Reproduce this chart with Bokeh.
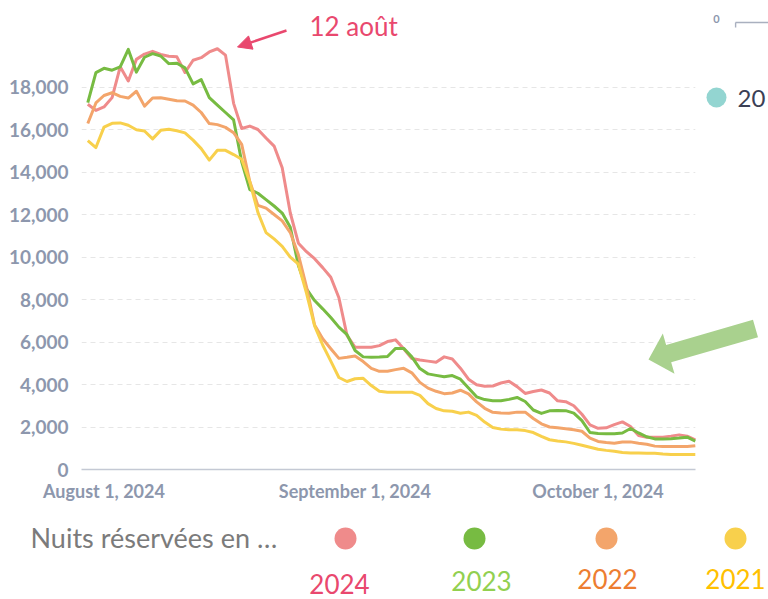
import math
from datetime import timedelta
import pandas as pd
from bokeh.plotting import figure
from bokeh.layouts import column
from bokeh.models import (Range1d, FixedTicker, NumeralTickFormatter, CustomJSTickFormatter, Label,
                          Arrow, NormalHead, BoxAnnotation, PolyAnnotation)
from bokeh.embed import file_html
from bokeh.resources import INLINE

# ---------------- data ----------------
dates = pd.date_range("2024-07-30", periods=76, freq="D")

nights_2024 = [17190, 16900, 17060, 17500, 18950, 18280, 19300, 19550, 19680, 19530,
               19450, 19420, 18680, 19260, 19380, 19650, 19800, 19500, 17230, 16050,
               16160, 16000, 15600, 15220, 14200, 12070, 10650, 10250, 9920, 9500,
               9050, 8080, 6310, 5750, 5750, 5750, 5830, 6020, 6100, 5680,
               5220, 5150, 5100, 5050, 5300, 5200, 4770, 4250, 3990, 3920,
               3930, 4070, 4150, 3900, 3580, 3670, 3740, 3600, 3230, 3190,
               3000, 2600, 2100, 1940, 1960, 2110, 2240, 2020, 1600, 1520,
               1520, 1520, 1570, 1630, 1570, 1400]
nights_2023 = [17260, 18680, 18880, 18790, 18950, 19770, 18700, 19400, 19570, 19460,
               19100, 19120, 18900, 18150, 18350, 17500, 17150, 16800, 16450, 14480,
               13170, 13000, 12700, 12400, 12070, 11400, 9600, 8500, 7950, 7560,
               7150, 6700, 6350, 5600, 5300, 5280, 5290, 5320, 5700, 5700,
               5300, 4750, 4500, 4430, 4360, 4420, 4250, 3830, 3420, 3290,
               3240, 3240, 3300, 3390, 3200, 2800, 2640, 2760, 2780, 2770,
               2650, 2300, 1740, 1690, 1680, 1680, 1720, 1930, 1720, 1540,
               1440, 1440, 1450, 1480, 1520, 1340]
nights_2022 = [16280, 17250, 17600, 17730, 17560, 17480, 17800, 17100, 17480, 17490,
               17420, 17350, 17340, 17150, 16800, 16280, 16230, 16100, 15850, 15300,
               13550, 12430, 12300, 12000, 11700, 11150, 10100, 8600, 6800, 6150,
               5680, 5230, 5280, 5340, 5080, 4760, 4620, 4620, 4700, 4760,
               4550, 4100, 3830, 3680, 3570, 3600, 3730, 3560, 3180, 2880,
               2690, 2660, 2650, 2700, 2700, 2400, 2150, 2000, 1960, 1920,
               1870, 1800, 1480, 1320, 1270, 1240, 1290, 1300, 1240, 1190,
               1100, 1080, 1080, 1080, 1080, 1120]
nights_2021 = [15480, 15150, 16110, 16290, 16310, 16200, 15990, 15930, 15560, 15960,
               16010, 15940, 15840, 15500, 15100, 14560, 15020, 15020, 14820, 14600,
               13530, 12100, 11150, 10850, 10500, 9990, 9660, 8300, 6760, 5860,
               5100, 4330, 4140, 4270, 4290, 3950, 3680, 3640, 3640, 3640,
               3640, 3490, 3100, 2870, 2760, 2740, 2650, 2700, 2550, 2230,
               1980, 1900, 1870, 1870, 1830, 1740, 1560, 1400, 1340, 1300,
               1230, 1140, 1050, 950, 900, 860, 800, 780, 775, 770,
               765, 730, 710, 705, 705, 705]

series_years = ["2024", "2023", "2022", "2021"]
series_values = [nights_2024, nights_2023, nights_2022, nights_2021]
line_colors = ["#ef8b8b", "#77bb42", "#f3a56b", "#f8d04c"]
year_label_colors = ["#e9486e", "#92d050", "#ed7d31", "#ffc000"]

y_ticks = [0, 2000, 4000, 6000, 8000, 10000, 12000, 14000, 16000, 18000]
x_tick_dates = ["2024-08-01", "2024-09-01", "2024-10-01"]
x_tick_labels = ["August 1, 2024", "September 1, 2024", "October 1, 2024"]

annotation_text = "12 août"
legend_title = "Nuits réservées en …"

# ---------------- layout (page pixel geometry) ----------------
W = 768
H1, H2 = 510, 89                     # chart part, legend strip
FRAME_L, FRAME_B = 81, 469           # page px of chart frame left / bottom
PX_PER_DAY = 8.1
X0_PAGE = 87.3                       # page px of first date
PX_PER_UNIT = 42.5 / 2000.0
AXIS_COLOR = "#8d97ad"

def page_x_to_dt(px):
    return dates[0].to_pydatetime() + timedelta(days=(px - X0_PAGE) / PX_PER_DAY)

def sx(px):
    return px - FRAME_L

def sy(py):
    return FRAME_B - py

def ms(d):
    return pd.Timestamp(d).timestamp() * 1000.0

x_range = Range1d(page_x_to_dt(FRAME_L), page_x_to_dt(W))
y_range = Range1d(0, FRAME_B / PX_PER_UNIT)

p = figure(width=W, height=H1, x_axis_type="datetime", x_range=x_range, y_range=y_range,
           output_backend="svg", toolbar_location=None,
           min_border_left=FRAME_L, min_border_right=0, min_border_top=0,
           min_border_bottom=H1 - FRAME_B, outline_line_color=None,
           background_fill_color="white", border_fill_color="white")

# y axis
yt = FixedTicker(ticks=y_ticks)
p.yaxis.ticker = yt
p.yaxis.formatter = NumeralTickFormatter(format="0,0")
p.yaxis.axis_line_color = None
p.yaxis.major_tick_line_color = None
p.yaxis.minor_tick_line_color = None
p.yaxis.major_label_text_font = "Lato"
p.yaxis.major_label_text_font_style = "bold"
p.yaxis.major_label_text_font_size = "19px"
p.yaxis.major_label_text_color = AXIS_COLOR
p.yaxis.major_label_standoff = 7

# x axis
x_ticks_ms = [ms(d) for d in x_tick_dates]
p.xaxis.ticker = FixedTicker(ticks=x_ticks_ms)
p.xaxis.formatter = CustomJSTickFormatter(args=dict(tick_values=x_ticks_ms, tick_texts=x_tick_labels),
    code="const i = tick_values.indexOf(tick); return i >= 0 ? tick_texts[i] : '';")
p.xaxis.bounds = (ms(page_x_to_dt(FRAME_L)), ms(dates[-1]))
p.xaxis.axis_line_color = "#c4c9d4"
p.xaxis.axis_line_width = 1.5
p.xaxis.major_tick_line_color = None
p.xaxis.minor_tick_line_color = None
p.xaxis.major_label_text_font = "Lato"
p.xaxis.major_label_text_font_style = "bold"
p.xaxis.major_label_text_font_size = "18px"
p.xaxis.major_label_text_color = AXIS_COLOR
p.xaxis.major_label_standoff = 4

# grid
p.xgrid.visible = False
p.ygrid.ticker = yt
p.ygrid.grid_line_color = "#e6e6e6"
p.ygrid.grid_line_dash = "5 4"
p.ygrid.grid_line_width = 1

# cover grid beyond last date
p.add_layout(BoxAnnotation(left=ms(dates[-1]), fill_color="white", fill_alpha=1.0,
                           line_alpha=0, level="underlay"))

# lines
for yr, vals, col in zip(series_years, series_values, line_colors):
    p.line(x=dates, y=vals, line_color=col, line_width=3, line_join="round")

def label(fig, px, py, text, size, color, align="left", style="normal", font="Lato",
          fx=sx, fy=sy):
    fig.add_layout(Label(x=fx(px), y=fy(py), x_units="screen", y_units="screen", text=text,
                         text_font=font, text_font_size=size, text_color=color,
                         text_align=align, text_baseline="middle", text_font_style=style))

def box(fig, l, r, t, b, color, radius=0, fx=sx, fy=sy):
    fig.add_layout(BoxAnnotation(left=fx(l), right=fx(r), top=fy(t), bottom=fy(b),
                                 left_units="screen", right_units="screen", top_units="screen",
                                 bottom_units="screen", fill_color=color, fill_alpha=1.0,
                                 line_alpha=0, border_radius=radius))

# annotation "12 août" with arrow
label(p, 309, 25.5, annotation_text, "26px", "#e9486e")
p.add_layout(Arrow(x_start=sx(286), y_start=sy(30), x_end=sx(237), y_end=sy(46.5),
                   start_units="screen", end_units="screen",
                   line_color="#e9486e", line_width=2.5,
                   end=NormalHead(size=14, fill_color="#e9486e", line_color="#e9486e")))

# cropped elements on the right edge
label(p, 716, 18, "0", "11px", AXIS_COLOR, align="center", style="bold")
box(p, 735, 770, 21.3, 22.7, "#a9b0bf")
box(p, 734.4, 735.8, 22, 27, "#a9b0bf")
box(p, 706, 726, 87, 107, "#93d5d1", radius=10)
label(p, 737, 98, "20", "24px", "#3b4055")

# big green arrow (polygon)
tail = (755.0, 328.0)
tip = (648.0, 359.0)
dx, dy = tip[0] - tail[0], tip[1] - tail[1]
L = math.hypot(dx, dy)
ux, uy = dx / L, dy / L
nx, ny = -uy, ux
head_len, head_half, shaft_half = 21.0, 21.0, 9.0
bx, by = tip[0] - head_len * ux, tip[1] - head_len * uy
pts = [
    (tail[0] + shaft_half * nx, tail[1] + shaft_half * ny),
    (bx + shaft_half * nx, by + shaft_half * ny),
    (bx + head_half * nx, by + head_half * ny),
    tip,
    (bx - head_half * nx, by - head_half * ny),
    (bx - shaft_half * nx, by - shaft_half * ny),
    (tail[0] - shaft_half * nx, tail[1] - shaft_half * ny),
]
p.add_layout(PolyAnnotation(xs=[sx(a) for a, b in pts], ys=[sy(b) for a, b in pts],
                            xs_units="screen", ys_units="screen",
                            fill_color="#a9d18e", fill_alpha=1.0, line_alpha=0))

# ---------------- legend strip ----------------
q = figure(width=W, height=H2, x_range=Range1d(0, 1), y_range=Range1d(0, 1),
           x_axis_location=None, y_axis_location=None,
           output_backend="svg", toolbar_location=None,
           min_border_left=0, min_border_right=0, min_border_top=0, min_border_bottom=0,
           outline_line_color=None, background_fill_color="white", border_fill_color="white")
q.grid.visible = False
for fig in (p, q):
    if "frame_align" in fig.properties():
        fig.frame_align = False

def qx(px):
    return px

def qy(py):
    return (H1 + H2) - py

circle_x = [345, 474, 606, 735]
for cx, col in zip(circle_x, line_colors):
    box(q, cx - 11, cx + 11, 527, 549, col, radius=11, fx=qx, fy=qy)

label(q, 30, 537, legend_title, "27px", "#7b7b7b", fx=qx, fy=qy)
year_pos = [(339, 583), (481, 580), (607, 578), (735, 578)]
for (px, py), yr, col in zip(year_pos, series_years, year_label_colors):
    label(q, px, py, yr, "26px", col, align="center", fx=qx, fy=qy)

layout = column(p, q, spacing=0)
open("out.html", "w").write(file_html(layout, INLINE))
